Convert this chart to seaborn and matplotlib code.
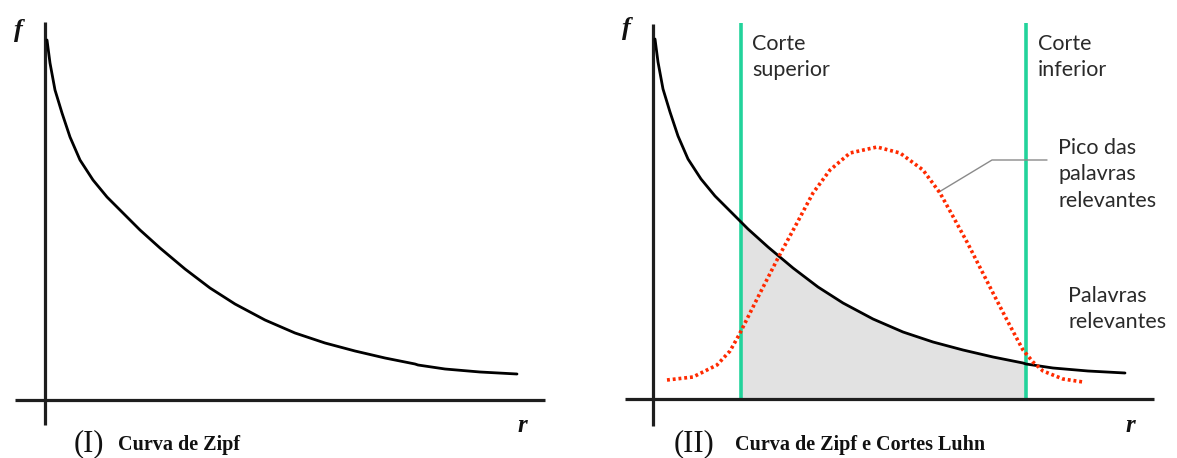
import numpy as np
import pandas as pd
import matplotlib
matplotlib.use("Agg")
import matplotlib.pyplot as plt
import seaborn as sns

# ---- data (arbitrary units: r = rank, f = frequency) ----
zipf_r = np.array([2, 5, 10, 17, 25, 35, 48, 62, 78, 88, 95, 115, 140, 165, 190,
                   220, 250, 280, 310, 340, 370, 373, 400, 435, 472])
zipf_f = np.array([360, 337, 310, 287, 263, 240, 220, 203, 187, 177, 170, 152, 131,
                   112, 96, 80, 67, 57, 49, 42, 36, 35, 31, 28, 26])

luhn_r = np.array([14, 40, 64, 77, 86, 104, 125, 144, 160, 177, 197, 224, 247,
                   270, 287, 297, 314, 340, 355, 370, 380, 390, 410, 430])
luhn_f = np.array([19, 22, 34, 48, 64, 100, 141, 176, 206, 229, 246, 252, 246,
                   229, 206, 188, 157, 106, 77, 49, 37, 28, 20, 17])

corte_superior = 88
corte_inferior = 373

leader_r = [286, 339, 394]
leader_f = [207, 239, 239]

W, H = 1177, 458
sns.set_theme(style="white")
plt.rcParams["font.family"] = ["Lato", "DejaVu Sans"]

fig = plt.figure(figsize=(W / 100, H / 100), dpi=100)
ax1 = fig.add_axes([0, 0, 600 / W, 1])
ax2 = fig.add_axes([600 / W, 0, 577 / W, 1])
ax1.set_xlim(-45, 555); ax1.set_ylim(-58, 400)
ax2.set_xlim(-53, 524); ax2.set_ylim(-59, 399)
for ax in (ax1, ax2):
    ax.axis("off")

axis_col = "#1e1e1e"
serif = ["Liberation Serif", "DejaVu Serif"]

zipf_df = pd.DataFrame({"r": zipf_r, "f": zipf_f})
luhn_df = pd.DataFrame({"r": luhn_r, "f": luhn_f})

# ---- panel I ----
ax1.plot([0, 0], [-25, 378], color=axis_col, lw=2.3, solid_capstyle="butt", zorder=3)
ax1.plot([-30, 500], [0, 0], color=axis_col, lw=2.3, solid_capstyle="butt", zorder=3)
sns.lineplot(data=zipf_df, x="r", y="f", ax=ax1, color="black", lw=2.0, zorder=4)
ax1.text(-27, 370, "f", fontfamily=serif, fontsize=19, fontweight="bold",
         fontstyle="italic", ha="center", va="center", color="#111")
ax1.text(477, -25, "r", fontfamily=serif, fontsize=18, fontweight="bold",
         fontstyle="italic", ha="center", va="center", color="#111")
ax1.set_xlabel(""); ax1.set_ylabel("")

# ---- panel II ----
mask = (zipf_r >= corte_superior) & (zipf_r <= corte_inferior)
ax2.fill_between(zipf_r[mask], 0, zipf_f[mask], color="#e2e2e2", lw=0, zorder=1)
ax2.plot([0, 0], [-27, 375], color=axis_col, lw=2.3, solid_capstyle="butt", zorder=3)
ax2.plot([-28, 501], [0, 0], color=axis_col, lw=2.3, solid_capstyle="butt", zorder=3)
ax2.vlines([corte_superior, corte_inferior], 0, 376, color="#22d39b", lw=2.6, zorder=2)
sns.lineplot(data=zipf_df, x="r", y="f", ax=ax2, color="black", lw=2.0, zorder=4)
sns.lineplot(data=luhn_df, x="r", y="f", ax=ax2, color="#ff2a00", lw=2.6,
             linestyle=(0, (0.8, 0.8)), zorder=5)
ax2.plot(leader_r, leader_f, color="#8a8a8a", lw=1.0, zorder=4)
ax2.set_xlabel(""); ax2.set_ylabel("")

txt_kw = dict(fontsize=15.5, color="#2a2a2a", ha="left", va="top", linespacing=1.4)
ax2.text(99, 365, "Corte\nsuperior", **txt_kw)
ax2.text(385, 365, "Corte\ninferior", **txt_kw)
ax2.text(405, 261, "Pico das\npalavras\nrelevantes", **txt_kw)
ax2.text(415, 113, "Palavras\nrelevantes", **txt_kw)
ax2.text(-27, 371, "f", fontfamily=serif, fontsize=19, fontweight="bold",
         fontstyle="italic", ha="center", va="center", color="#111")
ax2.text(477, -26, "r", fontfamily=serif, fontsize=18, fontweight="bold",
         fontstyle="italic", ha="center", va="center", color="#111")

# ---- captions ----
def fx(px):
    return px / W

def fy(py):
    return 1 - py / H

fig.text(fx(74), fy(451), "(I)", fontfamily=serif, fontsize=22, ha="left",
         va="baseline", color="#111")
fig.text(fx(118), fy(450), "Curva de Zipf", fontfamily=serif, fontsize=14.5,
         fontweight="bold", ha="left", va="baseline", color="#111")
fig.text(fx(674), fy(451), "(II)", fontfamily=serif, fontsize=22, ha="left",
         va="baseline", color="#111")
fig.text(fx(735), fy(450), "Curva de Zipf e Cortes Luhn", fontfamily=serif,
         fontsize=14.5, fontweight="bold", ha="left", va="baseline", color="#111")

fig.savefig("out.png", dpi=100, facecolor="white")
